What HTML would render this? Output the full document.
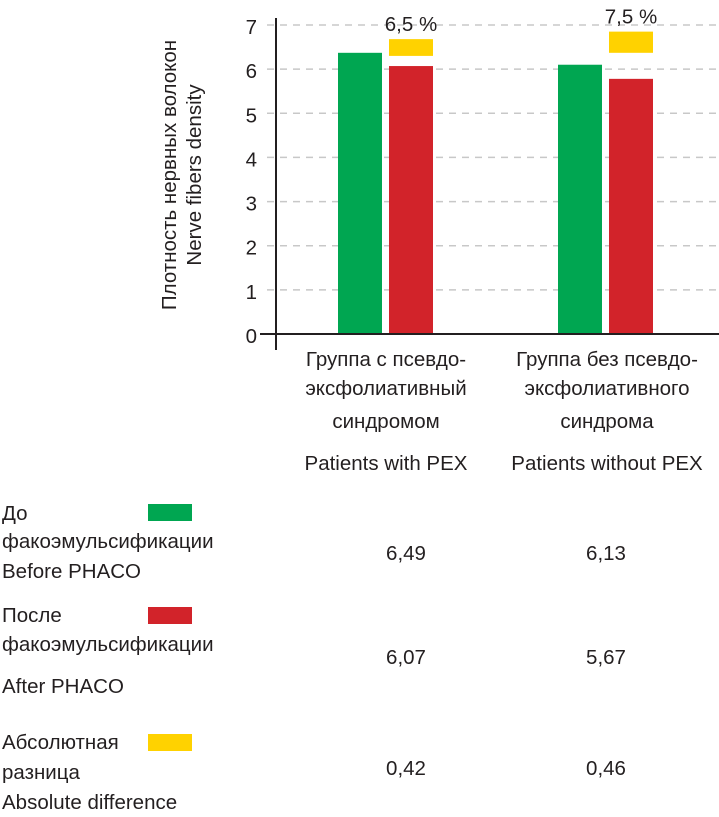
<!DOCTYPE html>
<html><head><meta charset="utf-8"><style>
html,body{margin:0;padding:0;background:#fff;}
svg text{font-family:"Liberation Sans Narrow","Liberation Sans",sans-serif;fill:#231f20;font-size:20.5px;}
</style></head><body>
<svg id="chart" width="719" height="812" viewBox="0 0 719 812">
<g id="grid"></g>
<g id="bars"></g>
<g id="axes">
 <line x1="276" y1="18" x2="276" y2="350" stroke="#231f20" stroke-width="2"/>
 <line x1="260" y1="334" x2="719" y2="334" stroke="#231f20" stroke-width="2"/>
</g>
<g id="ticks"></g>
<g>
 <text transform="translate(176,175) rotate(-90)" text-anchor="middle" font-size="21">Плотность нервных волокон</text>
 <text transform="translate(201,175) rotate(-90)" text-anchor="middle" font-size="21">Nerve fibers density</text>
</g>
<g>
 <text x="386" y="366" text-anchor="middle">Группа с псевдо-</text>
 <text x="386" y="395" text-anchor="middle">эксфолиативный</text>
 <text x="386" y="428" text-anchor="middle">синдромом</text>
 <text x="386" y="470" text-anchor="middle">Patients with PEX</text>
 <text x="607" y="366" text-anchor="middle">Группа без псевдо-</text>
 <text x="607" y="395" text-anchor="middle">эксфолиативного</text>
 <text x="607" y="428" text-anchor="middle">синдрома</text>
 <text x="607" y="470" text-anchor="middle">Patients without PEX</text>
</g>
<g>
 <text x="2" y="520">До</text>
 <text x="2" y="548">факоэмульсификации</text>
 <text x="2" y="578">Before PHACO</text>
 <rect x="148" y="504" width="44" height="17" fill="#00a651"/>
 <text x="2" y="622">После</text>
 <text x="2" y="651">факоэмульсификации</text>
 <text x="2" y="693">After PHACO</text>
 <rect x="148" y="607" width="44" height="17" fill="#d2232a"/>
 <text x="2" y="749">Абсолютная</text>
 <text x="2" y="779">разница</text>
 <text x="2" y="809">Absolute difference</text>
 <rect x="148" y="734" width="44" height="17" fill="#ffd200"/>
</g>
<g id="table"></g>
</svg>
<script>
const categories = ["Patients with PEX", "Patients without PEX"];
const beforeVals = [6.37, 6.1];
const afterVals = [6.07, 5.78];
const diffLow = [6.3, 6.37];
const diffHigh = [6.68, 6.85];
const diffLabels = ["6,5 %", "7,5 %"];
const tableBefore = ["6,49", "6,13"];
const tableAfter = ["6,07", "5,67"];
const tableDiff = ["0,42", "0,46"];
const yTicks = [0,1,2,3,4,5,6,7];

const NS = "http://www.w3.org/2000/svg";
const y0 = 334, yTop = 25, yMax = 7;
function yScale(v){ return y0 - (y0 - yTop) * v / yMax; }
const groupX0 = 338, groupStep = 220, barW = 44, barGap = 7;
function xGroup(i){ return groupX0 + i * groupStep; }
function mk(tag, attrs, parent){ const e = document.createElementNS(NS, tag); for (const k in attrs) e.setAttribute(k, attrs[k]); parent.appendChild(e); return e; }

const grid = document.getElementById('grid'), ticks = document.getElementById('ticks'), bars = document.getElementById('bars'), table = document.getElementById('table');
yTicks.forEach(t => {
  const y = yScale(t);
  if (t > 0) {
    const g = mk('line', {x1:267, x2:719, y1:y, y2:y, stroke:'#c8c8c8', 'stroke-width':1.5, 'stroke-dasharray':'7,6'}, grid);
    
    
  }
  const tx = mk('text', {x:257, y:y+9, 'text-anchor':'end', 'font-size':'25'}, ticks);
  tx.textContent = t;
  
  
});
categories.forEach((c, i) => {
  const x = xGroup(i);
  const b = mk('rect', {x:x, y:yScale(beforeVals[i]), width:barW, height:y0 - yScale(beforeVals[i]), fill:'#00a651'}, bars);
  
  
  const xa = x + barW + barGap;
  const a = mk('rect', {x:xa, y:yScale(afterVals[i]), width:barW, height:y0 - yScale(afterVals[i]), fill:'#d2232a'}, bars);
  
  
  const d = mk('rect', {x:xa, y:yScale(diffHigh[i]), width:barW, height:yScale(diffLow[i]) - yScale(diffHigh[i]), fill:'#ffd200'}, bars);
  
  
  const l = mk('text', {x:xa + barW/2, y:yScale(diffHigh[i]) - 8, 'text-anchor':'middle', 'font-size':'22'}, bars);
  l.textContent = diffLabels[i];
  
  
  const cx = 406 + i * 200;
  [[tableBefore, 560], [tableAfter, 664], [tableDiff, 775]].forEach(([arr, yy]) => {
    const t = mk('text', {x:cx, y:yy, 'text-anchor':'middle'}, table);
    t.textContent = arr[i];
    
    
  });
});
</script>
</body></html>
